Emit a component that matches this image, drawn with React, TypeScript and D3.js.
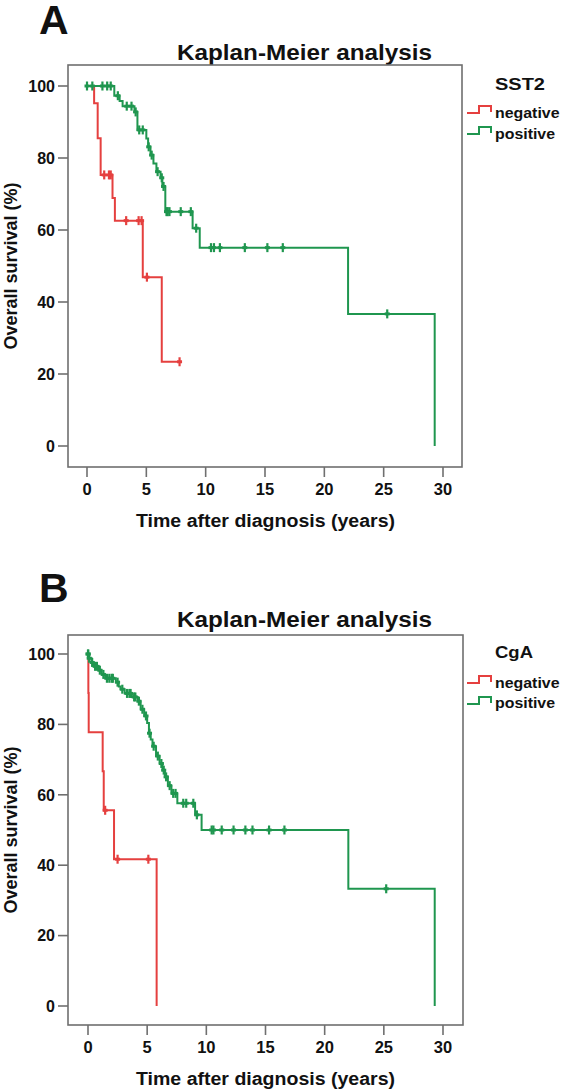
import React from 'react';
import * as d3 from 'd3';

type Step = [number, number];

// ---------- Panel A : SST2 ----------
const sst2NegativeSteps: Step[] = [
  [0, 100], [0.6, 95.2], [0.9, 85.5], [1.15, 75.3], [2.15, 68.9], [2.35, 62.6], [4.7, 46.9], [6.3, 23.4],
];
const sst2NegativeEnd = 7.8;
const sst2NegativeCensored = [1.45, 1.85, 2.0, 3.3, 4.35, 4.6, 5.05, 7.8];

const sst2PositiveSteps: Step[] = [
  [0, 100], [2.3, 97.3], [2.75, 95.8], [3.0, 94.4], [4.0, 92.8], [4.25, 87.8], [5.0, 85.4], [5.15, 83.1],
  [5.35, 80.8], [5.6, 78.5], [5.85, 76.2], [6.2, 74.5], [6.35, 72.1], [6.6, 65.1], [8.9, 60.5], [9.5, 55.1],
  [22.0, 36.7], [29.3, 0],
];
const sst2PositiveCensored = [
  0, 0.45, 1.3, 1.7, 2.0, 2.6, 3.35, 3.75, 4.1, 4.4, 4.7, 5.2, 5.45, 5.95, 6.3, 6.45, 6.7, 6.8, 6.95, 7.9,
  8.75, 9.2, 10.45, 10.7, 11.2, 13.3, 15.2, 16.5, 25.3,
];

// ---------- Panel B : CgA ----------
const cgaNegativeSteps: Step[] = [
  [0, 100], [0.03, 88.9], [0.06, 77.8], [1.24, 66.7], [1.33, 55.6], [2.2, 41.7], [5.8, 0],
];
const cgaNegativeCensored = [1.45, 2.5, 5.1];

const cgaPositiveSteps: Step[] = [
  [0, 100], [0.05, 98.8], [0.3, 97.6], [0.5, 96.5], [0.9, 95.4], [1.15, 94.2], [1.45, 93.1], [2.35, 92.0],
  [2.6, 90.8], [2.75, 90.0], [3.1, 88.8], [3.7, 87.8], [4.2, 86.6], [4.45, 84.3], [4.75, 82.4], [5.0, 80.4],
  [5.15, 77.5], [5.3, 75.7], [5.45, 73.8], [5.75, 71.0], [6.05, 68.9], [6.3, 67.0], [6.5, 65.1], [6.75, 62.6],
  [7.05, 60.4], [7.55, 57.6], [9.05, 54.3], [9.6, 50.0], [22.0, 33.3], [29.3, 0],
];
const cgaPositiveCensored = [
  0, 0.02, 0.1, 0.35, 0.6, 0.75, 1.0, 1.3, 1.6, 1.8, 2.0, 2.1, 2.5, 2.9, 3.3, 3.5, 3.6, 3.9, 4.0, 4.3,
  4.6, 4.9, 5.2, 5.55, 5.9, 6.2, 6.4, 6.6, 6.9, 7.2, 7.4, 8.05, 8.3, 8.9, 9.2, 10.45, 10.6, 11.3, 12.3,
  13.3, 13.9, 15.3, 16.6, 25.2,
];

// ---------- Axis / text ----------
const xTicks = [0, 5, 10, 15, 20, 25, 30];
const yTicks = [0, 20, 40, 60, 80, 100];
const groupLabels = ['negative', 'positive'];
const titleText = 'Kaplan-Meier analysis';
const xLabelText = 'Time after diagnosis (years)';
const yLabelText = 'Overall survival (%)';

const RED = '#e5403f';
const GREEN = '#1f964f';
const FRAME = '#6f6f6f';
const FONT = '"Liberation Sans", Arial, Helvetica, sans-serif';

function survivalAt(steps: Step[], t: number) {
  let s = steps[0][1];
  for (const [ti, si] of steps) if (ti <= t) s = si;
  return s;
}

function Curve({ steps, end, censored, color, x, y }: any) {
  const last = steps[steps.length - 1];
  const pts: Step[] = end != null && end > last[0] ? [...steps, [end, last[1]]] : steps;
  const line = d3.line<Step>().x(d => x(d[0])).y(d => y(d[1])).curve(d3.curveStepAfter);
  return (
    <g>
      <path d={line(pts) || ''} fill="none" stroke={color} strokeWidth={2} />
      {censored.map((c: number, i: number) => {
        const cx = x(c);
        const cy = y(survivalAt(steps, c));
        return (
          <g key={i}>
            <line x1={cx} x2={cx} y1={cy - 4.5} y2={cy + 4.5} stroke={color} strokeWidth={2.2} />
            <line x1={cx - 2.5} x2={cx + 2.5} y1={cy} y2={cy} stroke={color} strokeWidth={3} />
          </g>
        );
      })}
    </g>
  );
}

function Panel(props: any) {
  const { letter, letterBase, titleBase, frame, xRange, yRange, legendTitle, legendTitleBase, legendTitleLen,
    legendBases, symbolLows, curves } = props;
  const x = d3.scaleLinear().domain([0, 30]).range(xRange);
  const y = d3.scaleLinear().domain([0, 100]).range(yRange);
  const midY = (frame.top + frame.bottom) / 2;
  const colors = [RED, GREEN];
  return (
    <g fontFamily={FONT} fontWeight="bold" fill="#111">
      <text x={39} y={letterBase} fontSize={41}>{letter}</text>
      <text x={177} y={titleBase} fontSize={21.5} textLength={255} lengthAdjust="spacingAndGlyphs">{titleText}</text>
      <rect x={frame.left} y={frame.top} width={frame.right - frame.left} height={frame.bottom - frame.top}
        fill="none" stroke={FRAME} strokeWidth={1.6} />
      {yTicks.map(t => (
        <g key={'y' + t}>
          <line x1={frame.left - 10} x2={frame.left} y1={y(t)} y2={y(t)} stroke={FRAME} strokeWidth={1.6} />
          <text x={frame.left - 13} y={y(t)} dy="0.36em" textAnchor="end" fontSize={16}>{t}</text>
        </g>
      ))}
      {xTicks.map(t => (
        <g key={'x' + t}>
          <line x1={x(t)} x2={x(t)} y1={frame.bottom} y2={frame.bottom + 10} stroke={FRAME} strokeWidth={1.6} />
          <text x={x(t)} y={frame.bottom + 28} textAnchor="middle" fontSize={16.5}>{t}</text>
        </g>
      ))}
      <text x={136} y={frame.bottom + 60} fontSize={18} textLength={259} lengthAdjust="spacingAndGlyphs">{xLabelText}</text>
      <text transform={`translate(17,${midY}) rotate(-90)`} textAnchor="middle" fontSize={18}>{yLabelText}</text>
      {curves.map((c: any, i: number) => (
        <Curve key={i} steps={c.steps} end={c.end} censored={c.censored} color={colors[i]} x={x} y={y} />
      ))}
      <text x={495} y={legendTitleBase} fontSize={17} textLength={legendTitleLen} lengthAdjust="spacingAndGlyphs">{legendTitle}</text>
      {groupLabels.map((g, i) => (
        <g key={g}>
          <path d={`M467,${symbolLows[i]} H479 V${symbolLows[i] - 7} H491 V${symbolLows[i] - 1}`} fill="none"
            stroke={colors[i]} strokeWidth={2} />
          <text x={495} y={legendBases[i]} fontSize={15.5} textLength={i === 0 ? 64.5 : 60} lengthAdjust="spacingAndGlyphs">{g}</text>
        </g>
      ))}
    </g>
  );
}

export default function App() {
  return (
    <svg width={561} height={1089} style={{ position: 'absolute', left: 0, top: 0, background: '#fff' }}>
      <rect width={561} height={1089} fill="#fff" />
      <Panel
        letter="A" letterBase={34} titleBase={60}
        frame={{ left: 68, right: 462, top: 65, bottom: 467 }}
        xRange={[87, 443]} yRange={[446, 86]}
        legendTitle="SST2" legendTitleBase={90} legendTitleLen={50}
        legendBases={[118, 139]} symbolLows={[113, 134]}
        curves={[
          { steps: sst2NegativeSteps, end: sst2NegativeEnd, censored: sst2NegativeCensored },
          { steps: sst2PositiveSteps, censored: sst2PositiveCensored },
        ]}
      />
      <Panel
        letter="B" letterBase={602} titleBase={627}
        frame={{ left: 68, right: 463, top: 635, bottom: 1025 }}
        xRange={[88, 443]} yRange={[1006, 654]}
        legendTitle="CgA" legendTitleBase={658} legendTitleLen={38}
        legendBases={[688, 708]} symbolLows={[683, 704]}
        curves={[
          { steps: cgaNegativeSteps, censored: cgaNegativeCensored },
          { steps: cgaPositiveSteps, censored: cgaPositiveCensored },
        ]}
      />
    </svg>
  );
}
